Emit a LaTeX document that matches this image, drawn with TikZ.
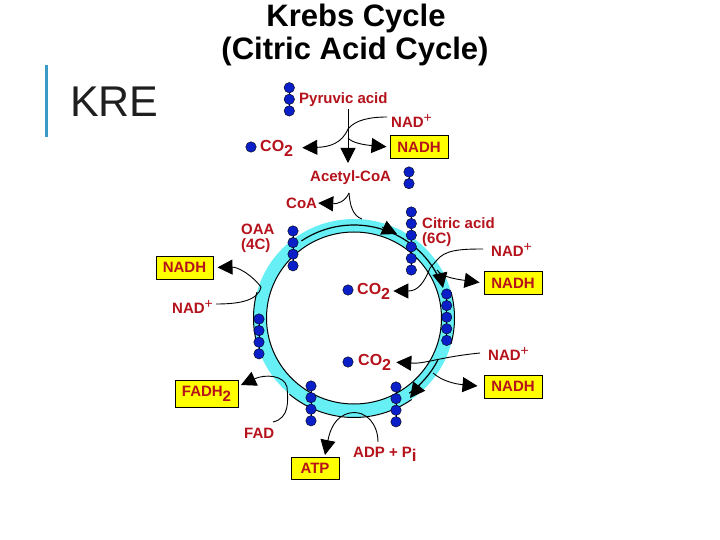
\documentclass[tikz,border=0pt]{standalone}
\usepackage{fontspec}
\setmainfont{Liberation Sans}
\usetikzlibrary{arrows.meta}
\definecolor{lbl}{HTML}{B5121B}
\definecolor{ringc}{HTML}{66F0F5}
\definecolor{ball}{HTML}{0A1FC8}
\definecolor{bar}{HTML}{3A9CC4}
\definecolor{boxy}{HTML}{FFFF00}
\tikzset{
  lab/.style={text=lbl,font=\bfseries\fontsize{15}{16}\selectfont,inner sep=0pt,anchor=west},
  labb/.style={lab,font=\bfseries\fontsize{16}{17}\selectfont},
  yb/.style={draw=black,line width=1pt,fill=boxy,text=lbl,font=\bfseries\fontsize{15}{16}\selectfont,inner sep=0pt,minimum height=23pt},
  bl/.style={circle,fill=ball,draw=black,line width=.4pt,minimum size=10.5pt,inner sep=0pt},
  conn/.style={black,line width=.9pt},
  arr/.style={conn,-{Triangle[length=15pt,width=15pt]}},
  ttl/.style={font=\bfseries\fontsize{31}{33}\selectfont,text=black,inner sep=0pt},
  edgeline/.style={black,line width=1pt}
}
\newcommand{\balls}[3]{\draw[black,line width=.8pt] (#1,#2) -- ++(0,{(#3-1)*11.6});
  \foreach \i in {1,...,#3} \node[bl] (b#1x#2x\i) at (#1,{#2+(\i-1)*11.6}) {};}
\newcommand{\plusup}{\raisebox{5pt}{\normalfont\fontsize{14}{14}\selectfont +}}
\newcommand{\ringarc}[5][]{\draw[#1] ({354+#2*cos(#3)},{318+(#2-1)*sin(#3)}) arc[start angle=#3,end angle=#4,x radius=#2,y radius=#5];}
\begin{document}
\begin{tikzpicture}[x=1pt,y=-1pt]
\useasboundingbox (0,0) rectangle (720,540);
\fill[white] (0,0) rectangle (720,540);
\node[ttl] (t1) at (356,18) {Krebs Cycle};
\node[ttl] (t2) at (355,51) {(Citric Acid Cycle)};
\fill[bar] (45,65) rectangle (47.5,137);
\node[inner sep=0pt,anchor=west,font=\fontsize{43}{45}\selectfont,text=black!88] (kre) at (70,102) {KRE};
% ring
\fill[ringc,even odd rule] (354,318) ellipse[x radius=100.5,y radius=99] (354,318) ellipse[x radius=87.5,y radius=86];
\draw[edgeline] (354,318) ellipse[x radius=87.5,y radius=86];
\ringarc[edgeline]{100.5}{55}{130}{99.5}
\ringarc[edgeline]{100.5}{-15}{15}{99.5}
\ringarc[edgeline]{100.5}{165}{195}{99.5}
% mid-ring lines with their heads
\ringarc[edgeline,line width=1.2pt]{94}{-124}{-21}{93}
\ringarc[edgeline,line width=1.2pt]{94}{27}{54}{93}
\coordinate (m1b) at (382,227);
\coordinate (m1t) at (397,234);
\coordinate (m2b) at (440,274);
\coordinate (m2t) at (443,288);
\coordinate (m3b) at (420,385);
\coordinate (m3t) at (410,398);
\draw[arr] (m1b) -- (m1t);
\draw[arr] (m2b) -- (m2t);
\draw[arr] (m3b) -- (m3t);
% balls
\balls{289.3}{87.7}{3}
\balls{409}{172}{2}
\balls{293}{231}{4}
\balls{411.3}{212}{6}
\balls{446.7}{294}{5}
\balls{259}{319}{4}
\balls{311}{386}{4}
\balls{396}{387}{4}
\node[bl] (c1) at (251,147) {};
\node[bl] (c2) at (348,290) {};
\node[bl] (c3) at (348,362) {};
% labels
\node[lab] (pyr) at (299,100) {Pyruvic acid};
\node[lab] (nad1) at (391,121) {NAD\plusup};
\node[yb,minimum width=58pt] (nadh1) at (419,147) {NADH};
\node[labb] (co1) at (260,148) {CO\raisebox{-5pt}{2}};
\node[lab] (acet) at (310,178) {Acetyl-CoA};
\node[lab] (coa) at (286,203) {CoA};
\node[lab] (oaa) at (241,229) {OAA};
\node[lab] (c4) at (241,246) {(4C)};
\node[lab] (cit) at (422,223) {Citric acid};
\node[lab] (c6) at (422,240) {(6C)};
\node[lab] (nad2) at (491,250) {NAD\plusup};
\node[yb,minimum width=58pt] (nadh2) at (513,283) {NADH};
\node[yb,minimum width=57pt] (nadh3) at (184.5,267.5) {NADH};
\node[lab] (nad3) at (172,307) {NAD\plusup};
\node[labb] (co2) at (357,291) {CO\raisebox{-5pt}{2}};
\node[labb] (co3) at (358,362) {CO\raisebox{-5pt}{2}};
\node[lab] (nad4) at (488,354) {NAD\plusup};
\node[yb,minimum width=58pt] (nadh4) at (513,386.5) {NADH};
\node[yb,minimum width=63pt,minimum height=27pt] (fadh) at (206.5,393.5) {FADH\raisebox{-5pt}{2}};
\node[lab] (fad) at (244,433) {FAD};
\node[yb,minimum width=48pt,minimum height=22pt] (atp) at (315,468) {ATP};
\node[lab] (adp) at (353,454) {ADP + P\raisebox{-4pt}{\fontsize{17}{17}\selectfont i}};
% connector points
\coordinate (j1) at (348,129);
\coordinate (p1) at (348,109);
\coordinate (p2) at (348,163);
\coordinate (s1) at (348,138);
\coordinate (ac) at (349,193);
\coordinate (r1) at (362,219);
\coordinate (rl) at (261,287);
\coordinate (nad1e) at (387,117);
\coordinate (nad2e) at (483,249);
\coordinate (nad3e) at (216,304);
\coordinate (nad4e) at (480,353);
\coordinate (r3) at (437,260);
\coordinate (r4) at (437,270);
\coordinate (r5) at (430,268);
\coordinate (r6) at (433,373);
\coordinate (r8) at (287,387);
\coordinate (r9) at (350,413);
\coordinate (fade) at (273,422);
\coordinate (adpe) at (378,442);
\coordinate (fadt) at (241,385);
\coordinate (atpt) at (325,455);
% connectors
\draw[arr] (p1) -- (p2);
\draw[arr,shorten >=9pt] (j1) .. controls (342,143) and (330,147) .. (co1.east);
\draw[conn] (j1) .. controls (355,120) and (370,117) .. (nad1e);
\draw[arr,shorten >=3pt] (s1) .. controls (352,143) and (365,145) .. (nadh1.west);
\draw[arr,shorten >=1pt] (ac) .. controls (345,202) and (337,204) .. (coa.east);
\draw[conn] (ac) .. controls (350,206) and (353,216) .. (r1);
\draw[arr,shorten >=4pt] (rl) .. controls (252,275) and (238,267) .. (nadh3.east);
\draw[conn] (nad3e) .. controls (235,304) and (258,302) .. (rl);
\draw[conn] (nad2e) .. controls (460,249) and (445,250) .. (r3);
\draw[conn] (r3) -- (r5);
\draw[arr,shorten >=4pt] (r4) .. controls (442,277) and (455,279) .. (nadh2.west);
\draw[arr,shorten >=3pt] (r5) .. controls (424,283) and (418,291) .. (co2.east);
\draw[arr,shorten >=5pt] (nad4e) .. controls (440,357) and (425,364) .. (co3.east);
\draw[arr,shorten >=6pt] (r6) .. controls (442,381) and (455,384) .. (nadh4.west);
\draw[conn] (fade) .. controls (290,418) and (288,400) .. (r8);
\draw[arr] (r8) .. controls (284,375) and (265,374) .. (fadt);
\draw[conn] (adpe) .. controls (378,425) and (367,410) .. (r9);
\draw[arr] (r9) .. controls (335,416) and (330,430) .. (atpt);
\end{tikzpicture}
\end{document}
